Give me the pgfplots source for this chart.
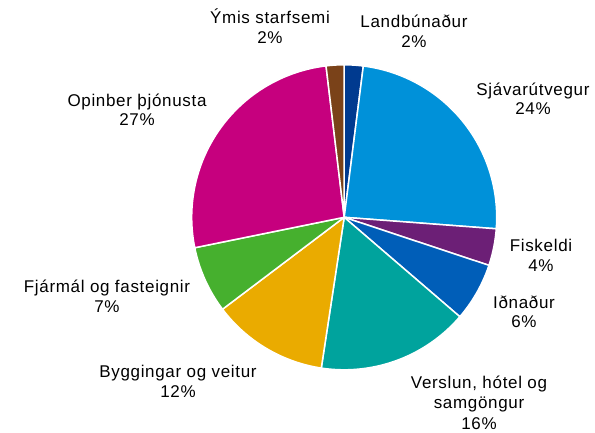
\documentclass[border=0pt]{standalone}
\usepackage{fontspec}
\setmainfont{Liberation Sans}[LetterSpace=4]
\usepackage{pgfplots}
\pgfplotsset{compat=1.18}
\definecolor{cLand}{HTML}{003A8F}
\definecolor{cSjav}{HTML}{0091D9}
\definecolor{cFisk}{HTML}{6C1F76}
\definecolor{cIdn}{HTML}{005EB8}
\definecolor{cVers}{HTML}{00A39D}
\definecolor{cBygg}{HTML}{EAAB00}
\definecolor{cFjar}{HTML}{46B02E}
\definecolor{cOpin}{HTML}{C6007E}
\definecolor{cYmis}{HTML}{7A4219}
\newcommand{\lf}{\fontsize{17}{20}\selectfont}
\begin{document}
\begin{tikzpicture}
\begin{axis}[hide axis, scale only axis, width=595pt, height=433pt,
  xmin=0, xmax=595, ymin=0, ymax=433, y dir=reverse, clip=false]
\def\cum{0}
\foreach \v/\c in {2.0/cLand, 24.2/cSjav, 3.9/cFisk, 6.2/cIdn, 16.1/cVers, 12.3/cBygg, 7.1/cFjar, 26.3/cOpin, 1.9/cYmis}{
  \pgfmathsetmacro\a{90-3.6*\cum}
  \pgfmathsetmacro\b{90-3.6*(\cum+\v)}
  \edef\tmp{\noexpand\addplot[fill=\c, draw=white, line width=1.5pt, line join=round, domain=\b:\a, samples=80, variable=\noexpand\t] ({344.2+152.5*cos(\noexpand\t)},{217.3-152.5*sin(\noexpand\t)}) -- (axis cs:344.2,217.3) -- cycle;}
  \tmp
  \pgfmathsetmacro\nc{\cum+\v}
  \global\let\cum\nc
}
\node[anchor=base, font=\lf] at (axis cs:270,24) {Ýmis starfsemi};
\node[anchor=base, font=\lf] at (axis cs:270,43.5) {2\%};
\node[anchor=base, font=\lf] at (axis cs:414,28) {Landbúnaður};
\node[anchor=base, font=\lf] at (axis cs:414,48) {2\%};
\node[anchor=base, font=\lf] at (axis cs:533,96) {Sjávarútvegur};
\node[anchor=base, font=\lf] at (axis cs:533,115) {24\%};
\node[anchor=base, font=\lf] at (axis cs:137,106.5) {Opinber þjónusta};
\node[anchor=base, font=\lf] at (axis cs:137,125.5) {27\%};
\node[anchor=base, font=\lf] at (axis cs:541,251.5) {Fiskeldi};
\node[anchor=base, font=\lf] at (axis cs:541,271) {4\%};
\node[anchor=base, font=\lf] at (axis cs:524,308) {Iðnaður};
\node[anchor=base, font=\lf] at (axis cs:524,327) {6\%};
\node[anchor=base, font=\lf] at (axis cs:479,388) {Verslun, hótel og};
\node[anchor=base, font=\lf] at (axis cs:479,408) {samgöngur};
\node[anchor=base, font=\lf] at (axis cs:479,429) {16\%};
\node[anchor=base, font=\lf] at (axis cs:178,377) {Byggingar og veitur};
\node[anchor=base, font=\lf] at (axis cs:178,397) {12\%};
\node[anchor=base, font=\lf] at (axis cs:107,292) {Fjármál og fasteignir};
\node[anchor=base, font=\lf] at (axis cs:107,312.5) {7\%};
\end{axis}
\pgfresetboundingbox
\path (0,0) rectangle (595pt,433pt);
\end{tikzpicture}
\end{document}
